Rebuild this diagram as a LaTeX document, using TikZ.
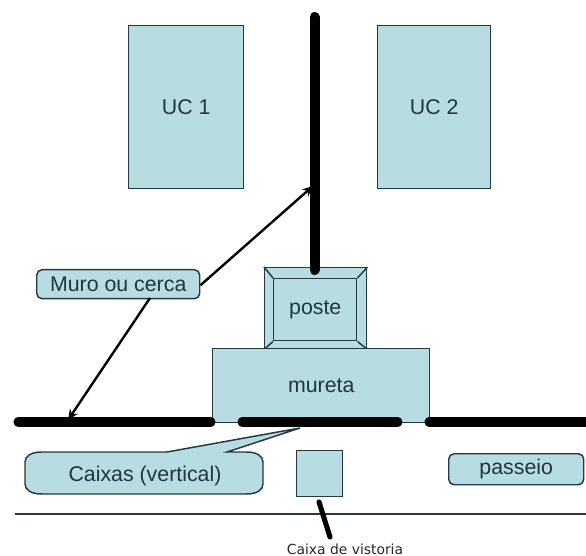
\documentclass[tikz,border=0pt]{standalone}
\usepackage{xcolor}
\usepackage{fontspec}
\setmainfont{Liberation Sans}
\newfontfamily\legendafont{DejaVu Sans}
\usepackage{tikz}
\definecolor{boxfill}{HTML}{B7DCE2}
\definecolor{boxline}{HTML}{24393F}
\definecolor{boxtext}{HTML}{1F3644}
\tikzset{
    caixa/.style={draw=boxline,fill=boxfill,line width=1.1pt,text=boxtext,font=\fontsize{16}{19}\selectfont,inner sep=0pt,anchor=north west},
    rotulo/.style={text=boxtext,font=\fontsize{16}{19}\selectfont},
    parede/.style={line width=6.8pt,line cap=round,black},
    seta/.style={line width=1.8pt,black,-{Stealth[length=8pt,width=7pt]}}
}
\usetikzlibrary{arrows.meta}
\begin{document}
\begin{tikzpicture}[x=0.75pt,y=-0.75pt]
            \useasboundingbox (0,0) rectangle (586,556);

            \node[caixa,minimum width=115*0.75pt,minimum height=163*0.75pt] at (128,25) (uc1) {UC 1};
            \node[caixa,minimum width=113*0.75pt,minimum height=163*0.75pt] at (377,25) (uc2) {UC 2};

            \node[caixa,minimum width=102*0.75pt,minimum height=81*0.75pt] at (264,267) (moldura) {};
            \node[caixa,minimum width=83*0.75pt,minimum height=62*0.75pt] at (273,278) (poste) {poste};
            \draw[boxline,line width=1.1pt] (moldura.north west) -- (poste.north west);
            \draw[boxline,line width=1.1pt] (moldura.north east) -- (poste.north east);
            \draw[boxline,line width=1.1pt] (moldura.south west) -- (poste.south west);
            \draw[boxline,line width=1.1pt] (moldura.south east) -- (poste.south east);

            \node[caixa,minimum width=217*0.75pt,minimum height=74*0.75pt] at (212,348) (mureta) {mureta};

            \coordinate (M1) at (18,422);
            \coordinate (M2) at (211,422);
            \coordinate (M3) at (242,422);
            \coordinate (M4) at (398,422);
            \coordinate (M5) at (429,422);
            \coordinate (M6) at (586,422);
            \coordinate (M7) at (314.5,17);
            \coordinate (M8) at (314.5,270);
            \draw[parede] (M1) -- (M2);
            \draw[parede] (M3) -- (M4);
            \draw[parede] (M5) -- (M6);
            \draw[parede,line width=7.5pt] (M7) -- (M8);

            \node[caixa,rounded corners=4pt,minimum width=163*0.75pt,minimum height=29*0.75pt] at (36,269) (muro) {Muro ou cerca};
            \coordinate (S1) at (313,186);
            \coordinate (S2) at (68,420);
            \draw[seta] (muro.east) ++(0,1) -- (S1);
            \draw[seta] (150,298) -- (S2);

            \coordinate (T) at (300,428);
            \draw[boxline,fill=boxfill,line width=1.1pt] (T) -- (167,452) -- (42,452)
                .. controls (31,452) and (25,456) .. (25,462) -- (25,484)
                .. controls (25,490) and (31,494) .. (42,494) -- (246,494)
                .. controls (257,494) and (263,490) .. (263,484) -- (263,462)
                .. controls (263,456) and (257,452) .. (246,452) -- (227,452) -- cycle;
            \node[rotulo] at (145,476) (caixas) {Caixas (vertical)};

            \node[caixa,minimum width=46*0.75pt,minimum height=46*0.75pt] at (296,450) (vistoria) {};
            \node[caixa,rounded corners=4pt,minimum width=135*0.75pt,minimum height=31*0.75pt] at (448,453) (passeio) {passeio};

            \coordinate (L1) at (15,514);
            \coordinate (L2) at (586,514);
            \draw[boxline,line width=1.1pt] (L1) -- (L2);

            \node[font=\legendafont\fontsize{10.4}{12}\selectfont,text=black!85] at (345,549) (legenda) {Caixa de vistoria};
            \coordinate (V1) at (319,502);
            \coordinate (V2) at (330,537);
            \draw[black,line width=3.8pt,line cap=round] (V1) -- (V2);
        \end{tikzpicture}
\end{document}
